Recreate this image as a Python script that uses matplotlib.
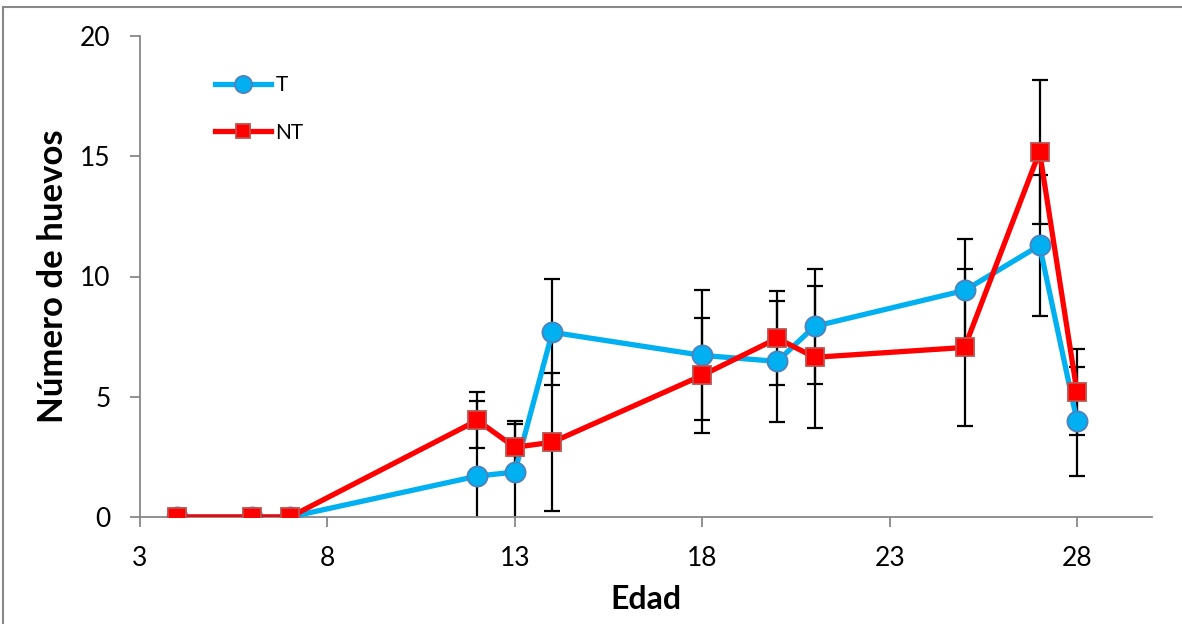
import numpy as np
import matplotlib
matplotlib.use('Agg')
from matplotlib import pyplot as plt
from matplotlib.patches import Rectangle

# data
edad = [4, 6, 7, 12, 13, 14, 18, 20, 21, 25, 27, 28]
t_mean = [0, 0, 0, 1.70, 1.87, 7.68, 6.72, 6.47, 7.93, 9.42, 11.29, 3.98]
t_err = [0, 0, 0, 3.11, 2.00, 2.20, 2.70, 2.53, 2.40, 2.16, 2.92, 2.26]
nt_mean = [0, 0, 0, 4.02, 2.90, 3.11, 5.89, 7.43, 6.64, 7.05, 15.19, 5.19]
nt_err = [0, 0, 0, 1.16, 1.08, 2.86, 2.39, 1.95, 2.96, 3.25, 3.00, 1.78]

x_ticks = [3, 8, 13, 18, 23, 28]
y_ticks = [0, 5, 10, 15, 20]

plt.rcParams.update({'font.family': ['Lato', 'DejaVu Sans'],
                     'axes.linewidth': 1.3})

fig = plt.figure(figsize=(11.82, 6.24), dpi=100)
ax = fig.add_axes([140/1182, 1 - 517/624, (1152-140)/1182, (517-36)/624])

grey = '#888888'

# error bars first, lines and markers on top
for m, e in [(t_mean, t_err), (nt_mean, nt_err)]:
    yerr = np.array(e)
    mask = yerr > 0
    ax.errorbar(np.array(edad)[mask], np.array(m)[mask], yerr=yerr[mask],
                fmt='none', ecolor='black', elinewidth=1.6, capsize=6,
                capthick=1.6, zorder=1)

ax.plot(edad, t_mean, color='#00B0F0', lw=3.8, marker='o', ms=14.5,
        mfc='#00B0F0', mec='#4F81BD', mew=1.3, label='T', zorder=3)
ax.plot(edad, nt_mean, color='#FF0000', lw=3.8, marker='s', ms=12.5,
        mfc='#FF0000', mec='#C0504D', mew=1.3, label='NT', zorder=4)

ax.set_xlim(3, 30)
ax.set_ylim(0, 20)
ax.set_xticks(x_ticks)
ax.set_yticks(y_ticks)
ax.tick_params(axis='both', direction='out', length=7, width=1.3,
               color=grey, labelsize=19)
ax.tick_params(axis='x', pad=14)
ax.tick_params(axis='y', pad=14)

for side in ['top', 'right']:
    ax.spines[side].set_visible(False)
for side in ['left', 'bottom']:
    ax.spines[side].set_color(grey)

ax.set_xlabel('Edad', fontsize=23, fontweight='bold', labelpad=10)
ax.set_ylabel('Número de huevos', fontsize=25, fontweight='bold', labelpad=8)

leg = ax.legend(loc='upper left', bbox_to_anchor=(0.074, 0.918), frameon=False,
                fontsize=15, handlelength=2.7, labelspacing=1.3,
                handletextpad=0.2, markerscale=0.85, borderpad=0,
                borderaxespad=0)

# chart area border
fig.patches.append(Rectangle((3/1182, -0.05), 1.2, 1 - 7/624 + 0.05,
                             transform=fig.transFigure, fill=False,
                             edgecolor=grey, lw=1.5))

fig.savefig('out.png', dpi=100)
